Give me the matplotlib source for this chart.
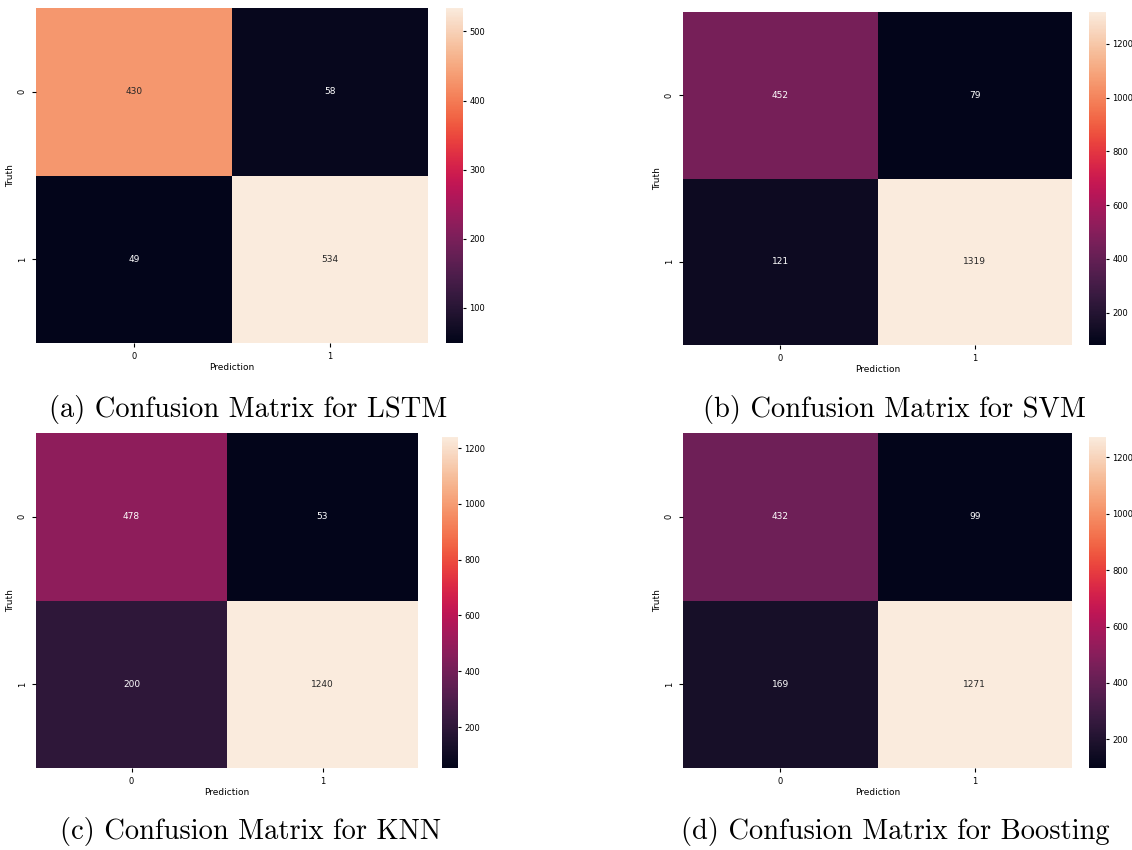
import numpy as np
import matplotlib
matplotlib.use("Agg")
import matplotlib.pyplot as plt
import seaborn as sns

# === DATA ===
CLASS_LABELS = ["0", "1"]
CM_LSTM = [[430, 58], [49, 534]]
CM_SVM = [[452, 79], [121, 1319]]
CM_KNN = [[478, 53], [200, 1240]]
CM_BOOST = [[432, 99], [169, 1271]]
CAPTIONS = [
    "(a) Confusion Matrix for LSTM",
    "(b) Confusion Matrix for SVM",
    "(c) Confusion Matrix for KNN",
    "(d) Confusion Matrix for Boosting",
]

# === LAYOUT (pixels) ===
W, H = 1132, 850
TICK_FS = 6
LABEL_FS = 6.5
ANNOT_FS = 6.5
CAPTION_FS = 20.5

# heatmap box (x0, y0, x1, y1), colorbar box, caption centre
PANELS = [
    ((36, 8, 428, 343), (446, 8, 463, 343), (248, 409)),
    ((683, 12, 1072, 345), (1089, 12, 1106, 345), (894, 409)),
    ((36, 433, 418, 768), (442, 437, 458, 768), (251, 831)),
    ((683, 433, 1072, 768), (1089, 437, 1106, 768), (895, 831)),
]


def rect(box):
    x0, y0, x1, y1 = box
    return [x0 / W, 1 - y1 / H, (x1 - x0) / W, (y1 - y0) / H]


fig = plt.figure(figsize=(W / 100, H / 100), dpi=100)

for cm, caption, (hbox, cbox, cpos) in zip(
        [CM_LSTM, CM_SVM, CM_KNN, CM_BOOST], CAPTIONS, PANELS):
    ax = fig.add_axes(rect(hbox))
    cax = fig.add_axes(rect(cbox))
    sns.heatmap(np.array(cm), annot=True, fmt="d", ax=ax, cbar_ax=cax,
                xticklabels=CLASS_LABELS, yticklabels=CLASS_LABELS,
                annot_kws={"fontsize": ANNOT_FS})
    ax.set_xlabel("Prediction", fontsize=LABEL_FS, labelpad=1.5)
    ax.set_ylabel("Truth", fontsize=LABEL_FS, labelpad=2)
    ax.tick_params(labelsize=TICK_FS, length=3)
    cax.tick_params(labelsize=TICK_FS, length=2.5, pad=2)
    for sp in cax.spines.values():
        sp.set_visible(False)
    fig.text(cpos[0] / W, 1 - cpos[1] / H, caption, ha="center",
             va="center", fontsize=CAPTION_FS, family="cmr10")

fig.savefig("out.png", dpi=100)
